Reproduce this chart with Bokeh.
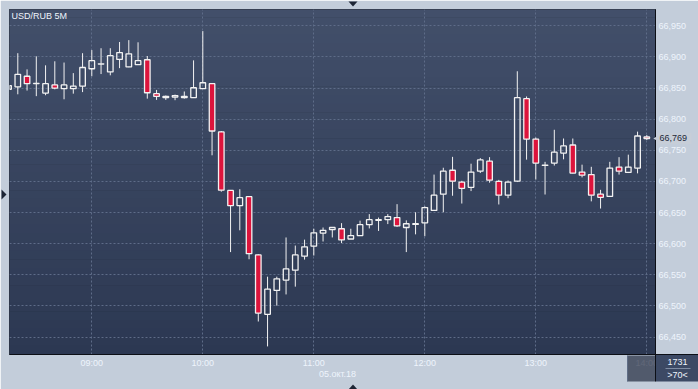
import numpy as np
from bokeh.plotting import figure
from bokeh.layouts import column
from bokeh.models import (Range1d, FixedTicker, BoxAnnotation, Label, ColumnDataSource)
from bokeh.core.properties import value
from bokeh.embed import file_html
from bokeh.resources import INLINE

# ---------------- data ----------------
title_text = "USD/RUB 5M"
date_text = "05.окт.18"
bar_total = "1731"
bars_visible = ">70<"

open_ = [66.848, 66.852, 66.869, 66.857, 66.842, 66.855, 66.849, 66.849, 66.853, 66.881,
         66.8885, 66.876, 66.896, 66.884, 66.8875, 66.8955, 66.841, 66.8345, 66.8355, 66.8345,
         66.8345, 66.849, 66.857, 66.7795, 66.6855, 66.661, 66.6755, 66.582, 66.4865, 66.525,
         66.5415, 66.5575, 66.580, 66.596, 66.617, 66.6225, 66.624, 66.6075, 66.613, 66.6305,
         66.6375, 66.6385, 66.642, 66.626, 66.631, 66.6335, 66.6535, 66.6795, 66.718, 66.699,
         66.6905, 66.7165, 66.7325, 66.700, 66.678, 66.7005, 66.833, 66.768, 66.7258, 66.7295,
         66.7455, 66.7585, 66.715, 66.711, 66.6795, 66.676, 66.723, 66.7145, 66.7215, 66.7715]
high = [66.855, 66.906, 66.880, 66.901, 66.8865, 66.893, 66.891, 66.874, 66.906, 66.911,
        66.914, 66.914, 66.924, 66.927, 66.9235, 66.9015, 66.847, 66.838, 66.8395, 66.8445,
        66.8945, 66.9415, 66.857, 66.781, 66.686, 66.6875, 66.676, 66.583, 66.547, 66.547,
        66.610, 66.597, 66.6065, 66.624, 66.626, 66.626, 66.633, 66.624, 66.637, 66.6475,
        66.642, 66.6475, 66.6635, 66.6375, 66.6505, 66.660, 66.711, 66.722, 66.7395, 66.701,
        66.7285, 66.7375, 66.739, 66.7025, 66.7015, 66.877, 66.8365, 66.7705, 66.7315, 66.783,
        66.769, 66.769, 66.727, 66.7235, 66.6865, 66.7315, 66.739, 66.743, 66.780, 66.7745]
low = [66.847, 66.840, 66.846, 66.837, 66.8385, 66.848, 66.832, 66.841, 66.8435, 66.869,
       66.8725, 66.8705, 66.882, 66.8835, 66.8875, 66.833, 66.831, 66.831, 66.8305, 66.833,
       66.834, 66.849, 66.742, 66.6835, 66.5865, 66.6215, 66.575, 66.475, 66.435, 66.5005,
       66.5185, 66.531, 66.5745, 66.581, 66.6035, 66.610, 66.601, 66.6075, 66.613, 66.6245,
       66.6205, 66.6315, 66.627, 66.5865, 66.615, 66.612, 66.653, 66.6505, 66.677, 66.6645,
       66.6845, 66.7135, 66.698, 66.663, 66.673, 66.699, 66.735, 66.703, 66.679, 66.7255,
       66.7355, 66.713, 66.7065, 66.668, 66.6565, 66.676, 66.711, 66.7135, 66.713, 66.7665]
close = [66.854, 66.872, 66.857, 66.8575, 66.857, 66.850, 66.855, 66.853, 66.883, 66.894,
         66.889, 66.902, 66.907, 66.905, 66.894, 66.8425, 66.8365, 66.8365, 66.838, 66.8365,
         66.8505, 66.8585, 66.781, 66.686, 66.661, 66.674, 66.584, 66.4885, 66.527, 66.5435,
         66.5595, 66.582, 66.595, 66.6175, 66.6215, 66.626, 66.606, 66.613, 66.6305, 66.6385,
         66.6385, 66.6435, 66.6285, 66.632, 66.632, 66.658, 66.678, 66.7165, 66.7005, 66.689,
         66.715, 66.7345, 66.702, 66.678, 66.699, 66.8345, 66.768, 66.7295, 66.7263, 66.747,
         66.757, 66.7135, 66.710, 66.678, 66.6745, 66.7215, 66.7165, 66.723, 66.773, 66.769]

hour_ticks = [9, 21, 33, 45, 57, 69]
hour_labels = ["09:00", "10:00", "11:00", "12:00", "13:00", "14:00"]
price_ticks = [66.45, 66.5, 66.55, 66.6, 66.65, 66.7, 66.75, 66.8, 66.85, 66.9, 66.95]
price_labels = ["66,450", "66,500", "66,550", "66,600", "66,650", "66,700",
                "66,750", "66,800", "66,850", "66,900", "66,950"]

# ---------------- styles ----------------
FONT = "Liberation Sans"
FS = "9px"
TXT = "#eef4fc"
UP_LINE = "#f2f2f2"
DOWN_FILL = "#dc143c"
LIGHT = "#c3cdda"
PANEL = "#3c4964"
BLACK = "#0c0f16"
W, H = 698, 389
FL, FT, FR, FB = 9, 9, 655, 354          # frame edges (px)
X0, X1 = 0.103, 69.94                    # candle-index range shown
Y0, Y1 = 66.4220, 66.9762                # price range shown

O = np.array(open_); Hh = np.array(high); Ll = np.array(low); C = np.array(close)
idx = np.arange(len(O))
top = np.maximum(O, C)
bot = np.minimum(O, C)
down = C < O

p = figure(width=W, height=H, output_backend="svg", toolbar_location=None,
           x_range=Range1d(X0, X1), y_range=Range1d(Y0, Y1),
           y_axis_location="right", min_border_left=FL, min_border_top=FT,
           min_border_right=W - FR, min_border_bottom=H - FB)
p.border_fill_color = LIGHT
p.background_fill_alpha = 0
p.outline_line_color = BLACK
p.outline_line_width = 1


def cbox(l, r, t, b, color):
    p.add_layout(BoxAnnotation(left=l, right=r, top=t, bottom=b,
                               left_units="canvas", right_units="canvas",
                               top_units="canvas", bottom_units="canvas",
                               fill_color=color, fill_alpha=1.0, line_color=None,
                               level="image"))


# window frame and panel backgrounds
cbox(6, W, 6, 383, "#8d9bb0")
cbox(7, W, 7, 382, "#10141b")
c_top = np.array([0x42, 0x4f, 0x6a]); c_bot = np.array([0x2c, 0x38, 0x52])
nb = 40
edges = np.linspace(8, FB, nb + 1)
for k in range(nb):
    f = (k + 0.5) / nb
    col = c_top * (1 - f) + c_bot * f
    cbox(8, W, edges[k], edges[k + 1] + 0.5, "#%02x%02x%02x" % tuple(int(round(v)) for v in col))
cbox(8, W, FB, 381, PANEL)

p.add_layout(Label(x=11, y=15.5, x_units="canvas", y_units="canvas", text=title_text,
                   text_font=FONT, text_font_size=FS, text_color=TXT,
                   text_baseline="middle"))

# axes
yax = p.yaxis[0]
yax.ticker = FixedTicker(ticks=price_ticks)
yax.major_label_overrides = {t: s for t, s in zip(price_ticks, price_labels)}
xax = p.xaxis[0]
xax.ticker = FixedTicker(ticks=hour_ticks)
xax.major_label_overrides = {t: s for t, s in zip(hour_ticks, hour_labels)}
for ax in (xax, yax):
    ax.major_tick_line_color = None
    ax.minor_tick_line_color = None
    ax.major_tick_out = 0
    ax.major_tick_in = 0
    ax.minor_tick_out = 0
    ax.minor_tick_in = 0
    ax.axis_line_color = BLACK
    ax.major_label_text_font = FONT
    ax.major_label_text_font_size = FS
    ax.major_label_text_color = TXT
    ax.major_label_standoff = 3

p.xgrid.ticker = FixedTicker(ticks=hour_ticks)
p.ygrid.ticker = FixedTicker(ticks=price_ticks)
for g in (p.xgrid[0], p.ygrid[0]):
    g.grid_line_color = "#5e6c88"
    g.grid_line_dash = "2 2"
    g.grid_line_width = 1

# candles
p.segment(x0=idx, y0=Hh, x1=idx, y1=top, line_color=UP_LINE, line_width=1)
p.segment(x0=idx, y0=bot, x1=idx, y1=Ll, line_color=UP_LINE, line_width=1)
src = ColumnDataSource(dict(x=idx, top=top, bottom=bot,
                            fill=[DOWN_FILL if d else "#000000" for d in down],
                            alpha=[1.0 if d else 0.0 for d in down]))
p.vbar(x="x", width=0.6, top="top", bottom="bottom", fill_color="fill",
       fill_alpha="alpha", line_color=UP_LINE, line_width=1.3, source=src)

# ---------------- overlay for the parts outside the plotting frame ----------------
ky = (Y1 - Y0) / (FB - FT)
q = figure(width=W, height=H, output_backend="svg", toolbar_location=None,
           x_range=Range1d(0, W), y_range=Range1d(H, 0),
           x_axis_location=None, y_axis_location=None, min_border=0,
           min_border_left=0, min_border_right=0, min_border_top=0, min_border_bottom=0)
q.extra_y_ranges = {"price": Range1d(Y0 - (H - FB) * ky, Y1 + FT * ky)}
q.border_fill_color = None
q.background_fill_color = None
q.outline_line_color = None
q.grid.visible = False
q.styles = {"position": "absolute", "left": "0px", "top": "0px"}
for fig in (p, q):
    if hasattr(fig, "frame_align"):
        fig.frame_align = False

# scroll box that dims the last hour label, then the corner panel
q.quad(left=627, right=FR, top=FB + 1, bottom=381, fill_color="#141b31", fill_alpha=0.65,
       line_color=None)
q.quad(left=626.5, right=627.5, top=FB + 1, bottom=381, fill_color="#5f6d86", line_color=None)
q.quad(left=FR + 0.5, right=W, top=FB + 0.5, bottom=381, fill_color=PANEL, line_color=None)
q.quad(left=FR, right=W, top=FB - 0.5, bottom=FB + 0.5, fill_color=BLACK, line_color=None)
q.quad(left=FR - 0.5, right=FR + 0.5, top=FB, bottom=381, fill_color=BLACK, line_color=None)
q.quad(left=665, right=690, top=367.5, bottom=368.5, fill_color="#7f8ca3", line_color=None)

q.text(x=[337, 677, 677], y=[373.5, 361.5, 374.5], text=[date_text, bar_total, bars_visible],
       text_font=value(FONT), text_font_size=FS, text_color=TXT,
       text_align="center", text_baseline="middle")

# current price marker on the right scale
last = C[-1]
q.rect(x=[674], y=[last], width=34, height=11, height_units="screen",
       fill_color="#c7ced8", line_color=None, y_range_name="price")
q.scatter(x=[658], y=[last], marker="triangle", size=9, angle=np.pi / 2,
          fill_color="#c7ced8", line_color=None, y_range_name="price")
q.text(x=[659], y=[last], text=[f"{last:.3f}".replace(".", ",")], text_font=value(FONT),
       text_font_size=FS, text_color="#1c2838", text_baseline="middle",
       y_range_name="price")

# small edge markers of the window
q.patches(xs=[[348, 357, 352.5], [348, 357, 352.5], [1, 1, 6]],
          ys=[[1, 1, 6], [389, 389, 384], [189, 199, 194]],
          fill_color="#1d2535", line_color=None)

root = column(p, q)
open("out.html", "w").write(file_html(root, INLINE))
